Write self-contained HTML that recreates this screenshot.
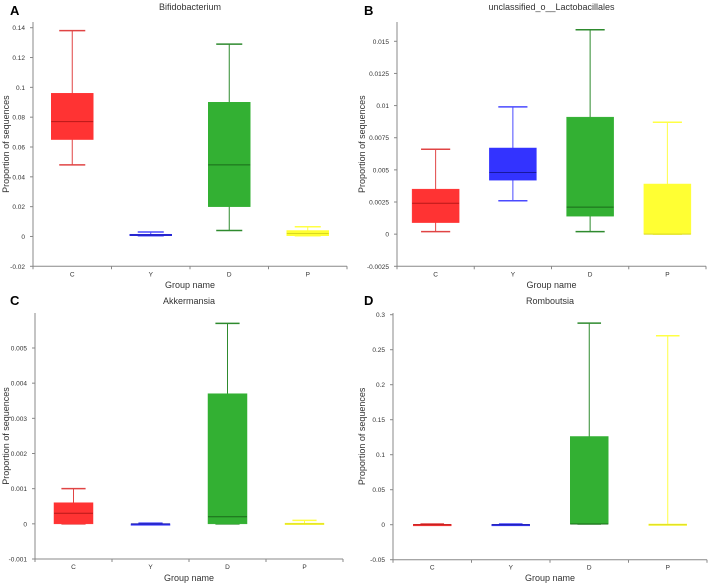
<!DOCTYPE html>
<html><head><meta charset="utf-8"><style>
body{margin:0;background:#fff;width:708px;height:583px;overflow:hidden}
svg{display:block;font-family:"Liberation Sans",sans-serif}
</style></head><body>
<svg id="chart" width="708" height="583"></svg>
<script>
const groups = ["C","Y","D","P"];
const colors = ["#ff3333","#3333ff","#33b033","#ffff33"];
const whiskerColors = ["#e04444","#4a4aff","#2e8a2e","#ffff44"];
const medianColors = ["#b81818","#1818a0","#1a6a1a","#d8d820"];
const titlesList = ["Bifidobacterium","unclassified_o__Lactobacillales","Akkermansia","Romboutsia"];
const letters = ["A","B","C","D"];
// [min, q1, median, q3, max] per group
const dataA = [[0.048,0.065,0.077,0.096,0.138],[0.0005,0.0005,0.001,0.0015,0.003],[0.004,0.020,0.048,0.090,0.129],[0.0005,0.0005,0.002,0.004,0.0065]];
const dataB = [[0.0002,0.0009,0.0024,0.0035,0.0066],[0.0026,0.0042,0.0048,0.0067,0.0099],[0.0002,0.0014,0.0021,0.0091,0.0159],[0,0,0,0.0039,0.0087]];
const dataC = [[0,0,0.0003,0.0006,0.001],[0,0,0,0,0.00002],[0,0,0.0002,0.0037,0.0057],[0,0,0,0.00002,0.0001]];
const dataD = [[0,0,0,0.0005,0.001],[0,0,0,0.0005,0.001],[0.001,0.001,0.001,0.126,0.288],[0,0,0,0.001,0.27]];
const ticksA = [-0.02,0,0.02,0.04,0.06,0.08,0.1,0.12,0.14];
const ticksB = [-0.0025,0,0.0025,0.005,0.0075,0.01,0.0125,0.015];
const ticksC = [-0.001,0,0.001,0.002,0.003,0.004,0.005];
const ticksD = [-0.05,0,0.05,0.1,0.15,0.2,0.25,0.3];

const panels = [
 {data:dataA,ticks:ticksA,x0:33,x1:347,yMinPx:266.3,yMaxPx:27.7,top:22,bw:42,ox:0,oy:0,lblX:5,ty:10,xty:288},
 {data:dataB,ticks:ticksB,x0:397,x1:706,yMinPx:266.3,yMaxPx:41.3,top:22,bw:47,ox:354,oy:0,lblX:361,ty:10,xty:288},
 {data:dataC,ticks:ticksC,x0:35,x1:343,yMinPx:559,yMaxPx:348,top:313,bw:39,ox:0,oy:290,lblX:5,ty:304,xty:581},
 {data:dataD,ticks:ticksD,x0:393,x1:707,yMinPx:559.7,yMaxPx:314.7,top:313,bw:38,ox:354,oy:290,lblX:361,ty:304,xty:581}
];
const NS="http://www.w3.org/2000/svg";
const svg=document.getElementById('chart');
function mk(tag,attrs,parent){const e=document.createElementNS(NS,tag);for(const k in attrs)e.setAttribute(k,attrs[k]);(parent||svg).appendChild(e);return e;}
panels.forEach((p,pi)=>{
  const g=mk('g',{});
  
  
  const tmin=p.ticks[0],tmax=p.ticks[p.ticks.length-1];
  const y=v=>p.yMinPx+(v-tmin)/(tmax-tmin)*(p.yMaxPx-p.yMinPx);
  const band=(p.x1-p.x0)/groups.length;
  const xc=i=>p.x0+band*(i+0.5);
  const L=mk('text',{x:p.ox+10,y:p.oy+15,'font-size':13,'font-weight':'bold',fill:'#000'},g);L.textContent=letters[pi];
  
  const T=mk('text',{x:(p.x0+p.x1)/2,y:p.ty,'font-size':9,'text-anchor':'middle',fill:'#333'},g);T.textContent=titlesList[pi];
  
  const ya=mk('line',{x1:p.x0,x2:p.x0,y1:p.top,y2:p.yMinPx,stroke:'#888','stroke-width':1},g);
  
  const xa=mk('line',{x1:p.x0,x2:p.x1,y1:p.yMinPx,y2:p.yMinPx,stroke:'#888','stroke-width':1},g);
  
  p.ticks.forEach(t=>{
    mk('line',{x1:p.x0-3,x2:p.x0,y1:y(t),y2:y(t),stroke:'#888'},g);
    const tl=mk('text',{x:p.x0-8,y:y(t)+2.5,'font-size':6.5,'text-anchor':'end',fill:'#333'},g);
    tl.textContent=String(t);
    
  });
  for(let i=0;i<=groups.length;i++){mk('line',{x1:p.x0+band*i,x2:p.x0+band*i,y1:p.yMinPx,y2:p.yMinPx+3,stroke:'#888'},g);}
  groups.forEach((gn,i)=>{
    const xl=mk('text',{x:xc(i),y:p.yMinPx+10,'font-size':6.5,'text-anchor':'middle',fill:'#333'},g);
    xl.textContent=gn;
    
    const d=p.data[i];const cx=xc(i);const cw=p.bw*0.62;
    const bg=mk('g',{},g);
    
    
    mk('line',{x1:cx,x2:cx,y1:y(d[0]),y2:y(d[4]),stroke:whiskerColors[i],'stroke-width':1},bg);
    mk('line',{x1:cx-cw/2,x2:cx+cw/2,y1:y(d[4]),y2:y(d[4]),stroke:whiskerColors[i],'stroke-width':1.5},bg);
    mk('line',{x1:cx-cw/2,x2:cx+cw/2,y1:y(d[0]),y2:y(d[0]),stroke:whiskerColors[i],'stroke-width':1.5},bg);
    const h=Math.max(1.5,y(d[1])-y(d[3]));
    mk('rect',{x:cx-p.bw/2,y:y(d[3]),width:p.bw,height:h,fill:colors[i],stroke:colors[i],'stroke-width':0.5},bg);
    mk('line',{x1:cx-p.bw/2,x2:cx+p.bw/2,y1:y(d[2]),y2:y(d[2]),stroke:medianColors[i],'stroke-width':1},bg);
  });
  const xt=mk('text',{x:(p.x0+p.x1)/2,y:p.xty,'font-size':9,'text-anchor':'middle',fill:'#333'},g);
  xt.textContent='Group name';
  
  const cy=(p.top+p.yMinPx)/2;
  const yt=mk('text',{x:p.lblX+4,y:cy,'font-size':9,'text-anchor':'middle',fill:'#333',transform:`rotate(-90 ${p.lblX+4} ${cy})`},g);
  yt.textContent='Proportion of sequences';
  
});
</script>
</body></html>
